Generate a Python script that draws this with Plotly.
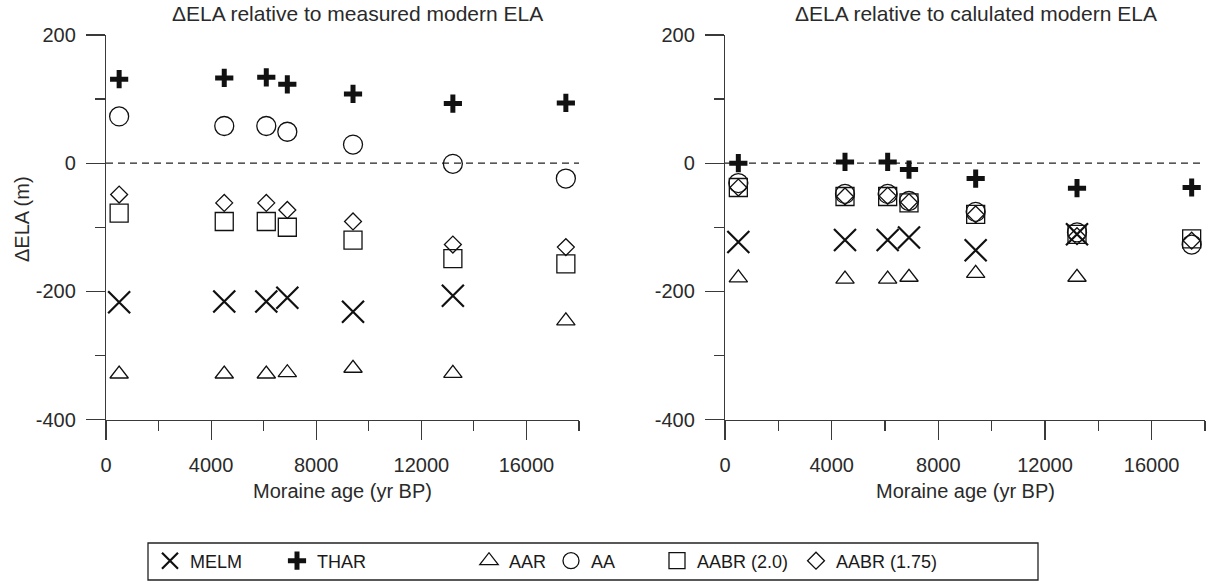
import plotly.graph_objects as go

W, H = 1213, 587

# ---------------- data ----------------
ages = [500, 4500, 6100, 6900, 9400, 13200, 17500]
series_names = ["MELM", "THAR", "AAR", "AA", "AABR (2.0)", "AABR (1.75)"]

# ΔELA relative to measured modern ELA
melm_measured = [-217, -216, -216, -210, -232, -207, None]
thar_measured = [131, 133, 134, 123, 108, 93, 94]
aar_measured = [-329, -329, -329, -327, -320, -328, -246]
aa_measured = [73, 58, 58, 49, 29, -1, -24]
aabr20_measured = [-78, -91, -91, -100, -120, -149, -157]
aabr175_measured = [-49, -62, -62, -73, -91, -127, -131]

# ΔELA relative to calculated modern ELA
melm_calculated = [-123, -120, -120, -116, -136, -111, None]
thar_calculated = [0, 2, 2, -10, -24, -39, -38]
aar_calculated = [-179, -181, -181, -178, -172, -178, None]
aa_calculated = [-31, -48, -48, -59, -76, -108, -127]
aabr20_calculated = [-38, -52, -52, -62, -80, -111, -118]
aabr175_calculated = [-38, -52, -51, -61, -80, -114, -121]

x_tick_vals = [0, 4000, 8000, 12000, 16000]
x_tick_text = ["0", "4000", "8000", "12000", "16000"]
y_tick_vals = [-400, -200, 0, 200]
y_tick_text = ["-400", "-200", "0", "200"]
x_range = [0, 18000]
y_range = [-400, 200]
reference_level = 0

panel_titles = ["ΔELA relative to measured modern ELA", "ΔELA relative to calulated modern ELA"]
x_title = "Moraine age (yr BP)"
y_title = "ΔELA (m)"

measured = [melm_measured, thar_measured, aar_measured, aa_measured, aabr20_measured, aabr175_measured]
calculated = [melm_calculated, thar_calculated, aar_calculated, aa_calculated, aabr20_calculated, aabr175_calculated]

# ---------------- styles ----------------
INK = "#111111"
AXC = "#3a3a3a"
TXT = "#2a2a2a"
FONT = "Liberation Sans, Arial, Helvetica, sans-serif"

marker_styles = {
    "MELM": dict(symbol="x-thin-open", size=22, line=dict(width=2.2, color=INK)),
    "THAR": dict(symbol="cross-thin-open", size=13, line=dict(width=5, color=INK)),
    "AAR": dict(symbol="triangle-up-open", size=16, line=dict(width=1.3, color=INK)),
    "AA": dict(symbol="circle-open", size=19, line=dict(width=1.3, color=INK)),
    "AABR (2.0)": dict(symbol="square-open", size=18, line=dict(width=1.3, color=INK)),
    "AABR (1.75)": dict(symbol="diamond-open", size=13, line=dict(width=1.3, color=INK)),
}

legend_ids = ["legend", "legend2", "legend3", "legend4", "legend5", "legend6"]
legend_symbol_px = [171, 298, 490, 572, 678, 817]
legend_row_px = 561

fig = go.Figure()

for i, name in enumerate(series_names):
    st = marker_styles[name]
    fig.add_trace(go.Scatter(
        x=ages, y=measured[i], mode="markers", name=name,
        marker=dict(symbol=st["symbol"], size=st["size"], color=INK, line=st["line"]),
        xaxis="x", yaxis="y", legendgroup=name, showlegend=True,
        legend=legend_ids[i],
    ))
    fig.add_trace(go.Scatter(
        x=ages, y=calculated[i], mode="markers", name=name,
        marker=dict(symbol=st["symbol"], size=st["size"], color=INK, line=st["line"]),
        xaxis="x2", yaxis="y2", legendgroup=name, showlegend=False,
    ))

# panel geometry (pixels -> paper)
left_px = (106, 579)
right_px = (725, 1205)
top_px, bottom_px = 35, 419.5

def px_x(v):
    return v / W

def px_y(v):
    return 1 - v / H

common_x = dict(
    range=x_range, tickmode="array", tickvals=x_tick_vals, ticktext=x_tick_text,
    showline=True, linecolor=AXC, linewidth=1.2,
    ticks="outside", ticklen=19, tickwidth=1.2, tickcolor=AXC,
    minor=dict(ticks="outside", ticklen=10, tickwidth=1.2, tickcolor=AXC, dtick=2000, tick0=0, showgrid=False),
    showgrid=False, zeroline=False, automargin=False,
    tickfont=dict(family=FONT, size=20, color=TXT),
    ticklabelstandoff=8,
)
common_y = dict(
    range=y_range, tickmode="array", tickvals=y_tick_vals, ticktext=y_tick_text,
    showline=True, linecolor=AXC, linewidth=1.2,
    ticks="outside", ticklen=19, tickwidth=1.2, tickcolor=AXC,
    minor=dict(ticks="outside", ticklen=10, tickwidth=1.2, tickcolor=AXC, dtick=100, tick0=0, showgrid=False),
    showgrid=False, zeroline=False, automargin=False,
    tickfont=dict(family=FONT, size=20, color=TXT),
    ticklabelstandoff=6,
)

fig.update_layout(
    width=W, height=H, autosize=False,
    margin=dict(l=0, r=0, t=0, b=0, autoexpand=False),
    paper_bgcolor="white", plot_bgcolor="white",
    font=dict(family=FONT, size=20, color=TXT),
    xaxis=dict(domain=[px_x(left_px[0]), px_x(left_px[1])], anchor="y", **common_x),
    yaxis=dict(domain=[px_y(bottom_px), px_y(top_px)], anchor="x", **common_y),
    xaxis2=dict(domain=[px_x(right_px[0]), px_x(right_px[1])], anchor="y2", **common_x),
    yaxis2=dict(domain=[px_y(bottom_px), px_y(top_px)], anchor="x2", **common_y),
    hovermode=False,
)

# legends (one per entry so that spacing matches the original)
for lid, sx in zip(legend_ids, legend_symbol_px):
    fig.update_layout({lid: dict(
        x=px_x(sx - 21), y=px_y(legend_row_px), xanchor="left", yanchor="middle",
        orientation="h", bgcolor="rgba(0,0,0,0)", borderwidth=0,
        font=dict(family=FONT, size=18, color="#1a1a1a"),
        itemclick=False, itemdoubleclick=False,
    )})

# legend frame
fig.add_shape(type="rect", xref="paper", yref="paper",
              x0=px_x(148), x1=px_x(1038), y0=px_y(580), y1=px_y(543),
              line=dict(color="#222222", width=1.3), fillcolor="rgba(0,0,0,0)", layer="below")

# zero reference lines
for xr, yr in (("x", "y"), ("x2", "y2")):
    fig.add_shape(type="line", xref=xr, yref=yr, x0=x_range[0], x1=x_range[1],
                  y0=reference_level, y1=reference_level,
                  line=dict(color="#222222", width=1.2, dash="7px,5px"), layer="below")

# titles
title_centers = [357, 976]
for t, cx in zip(panel_titles, title_centers):
    fig.add_annotation(text=t, xref="paper", yref="paper", x=px_x(cx), y=px_y(13),
                       xanchor="center", yanchor="middle", showarrow=False,
                       font=dict(family=FONT, size=21, color=TXT))
for cx in ((left_px[0] + left_px[1]) / 2, (right_px[0] + right_px[1]) / 2):
    fig.add_annotation(text=x_title, xref="paper", yref="paper", x=px_x(cx), y=px_y(491),
                       xanchor="center", yanchor="middle", showarrow=False,
                       font=dict(family=FONT, size=20, color=TXT))
fig.add_annotation(text=y_title, xref="paper", yref="paper", x=px_x(22), y=px_y(219),
                   xanchor="center", yanchor="middle", showarrow=False, textangle=-90,
                   font=dict(family=FONT, size=20, color=TXT))

fig.write_html(
    "out.html",
    config={"displayModeBar": False, "staticPlot": True},
    post_script="document.body.style.margin='0';document.body.style.overflow='hidden';",
)
